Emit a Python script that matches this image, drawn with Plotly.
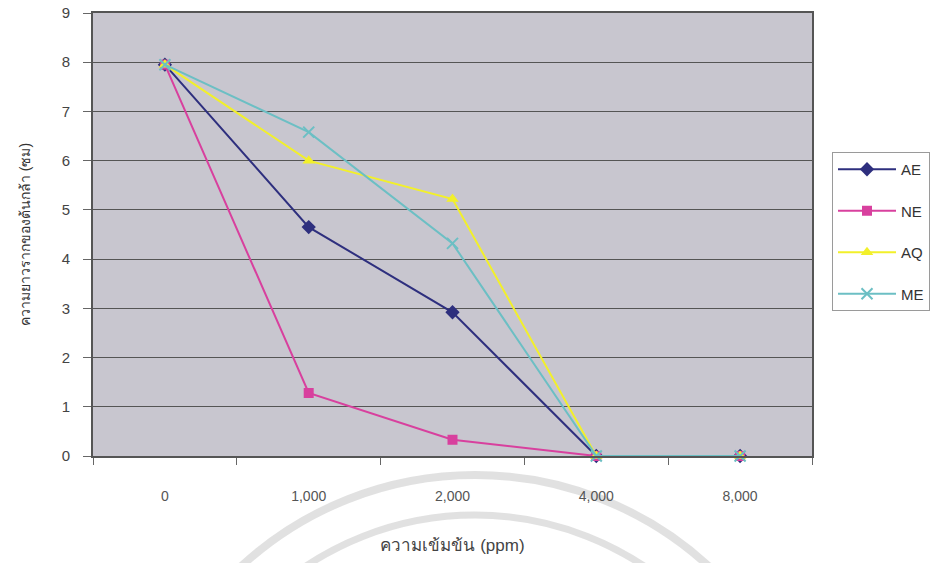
import plotly.graph_objects as go

categories = ["0", "1,000", "2,000", "4,000", "8,000"]
ae = [7.95, 4.65, 2.92, 0, 0]
ne = [7.95, 1.28, 0.33, 0, 0]
aq = [7.95, 6.0, 5.22, 0, 0]
me = [7.95, 6.58, 4.32, 0, 0]

series = [
    ("AE", ae, "#2e2f7e", "diamond", 11),
    ("NE", ne, "#d8409e", "square", 10),
    ("AQ", aq, "#f2f02a", "triangle-up", 11),
    ("ME", me, "#6cbfc4", "x-thin", 11),
]

fig = go.Figure()
for i, (name, vals, col, sym, sz) in enumerate(series):
    marker = dict(symbol=sym, size=sz, color=col)
    if sym == "x-thin":
        marker["line"] = dict(color=col, width=2)
    fig.add_trace(go.Scatter(
        x=categories, y=vals, name=name, mode="lines+markers",
        line=dict(color=col, width=2), marker=marker,
        legendgroup=f"g{i}", cliponaxis=False,
    ))

W, H = 938, 563
L, R, T, B = 93, 812, 13, 456

# watermark arcs (decorative, from scanned page)
wm = "rgba(200,200,200,0.55)"
for (cx, cy, r, w) in [(475, 820, 345, 8), (475, 820, 305, 7)]:
    fig.add_shape(type="circle", xref="paper", yref="paper",
                  x0=(cx - r - L) / (R - L), x1=(cx + r - L) / (R - L),
                  y0=(B - (cy + r)) / (B - T), y1=(B - (cy - r)) / (B - T),
                  line=dict(color=wm, width=w), layer="below")

fig.update_layout(
    width=W, height=H,
    margin=dict(l=L, r=W - R, t=T, b=H - B, autoexpand=False),
    paper_bgcolor="white",
    plot_bgcolor="#c8c6cf",
    font=dict(family="Liberation Sans, Arial, sans-serif", size=14, color="#444"),
    showlegend=True,
    legend=dict(
        x=(832 - L) / (R - L), y=(B - 152) / (B - T),
        xanchor="left", yanchor="top",
        bgcolor="white", bordercolor="#9a9a9a", borderwidth=1,
        font=dict(size=15, color="#333"),
        tracegroupgap=19,
        itemwidth=58,
    ),
    xaxis=dict(
        type="category", range=[-0.5, 4.5], automargin=False,
        showgrid=False,
        ticks="outside", ticklen=7, tickcolor="#666", tickson="boundaries",
        showline=True, linecolor="#555", linewidth=2, mirror=True,
        ticklabelstandoff=26,
        tickfont=dict(size=14, color="#555"),
        title=dict(text="ความเข้มข้น (ppm)", font=dict(size=17, color="#444"), standoff=36),
        zeroline=False,
    ),
    yaxis=dict(
        range=[0, 9], dtick=1, automargin=False,
        showgrid=True, gridcolor="#555", gridwidth=1,
        ticks="outside", ticklen=8, tickcolor="#666",
        showline=True, linecolor="#555", linewidth=2, mirror=True,
        ticklabelstandoff=10,
        tickfont=dict(size=15, color="#444"),
        title=dict(text="ความยาวรากของต้นกล้า (ซม)", font=dict(size=14, color="#333"), standoff=28),
        zeroline=False,
    ),
)

fig.write_html("out.html")
